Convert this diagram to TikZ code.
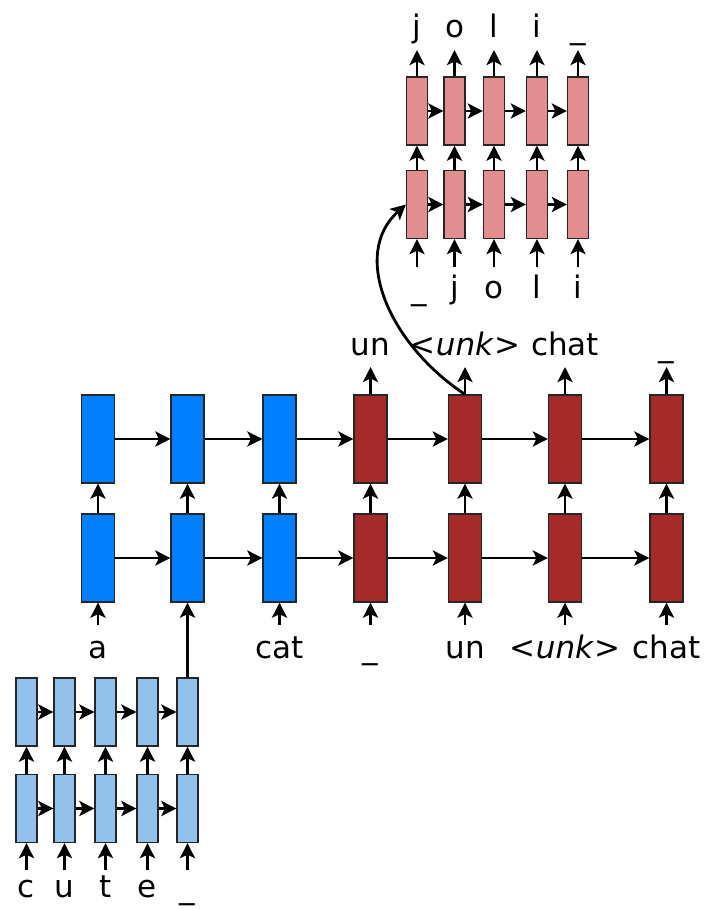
\documentclass[tikz,border=0pt]{standalone}
\usepackage{fontspec}
\setmainfont{DejaVu Sans}
\usetikzlibrary{arrows.meta}
\definecolor{encblue}{RGB}{0,128,255}
\definecolor{decred}{RGB}{165,42,42}
\definecolor{charblue}{RGB}{146,193,236}
\definecolor{charpink}{RGB}{226,142,142}
\newcommand{\usc}{\char95}
\begin{document}
\begin{tikzpicture}[x=1pt,y=-1pt,
  cellbase/.style={draw=black!85, line width=1.3pt, inner sep=0pt},
  bigcell/.style={cellbase, minimum width=33pt, minimum height=88pt},
  smallcell/.style={cellbase, minimum width=21pt, minimum height=68pt},
  enc/.style={bigcell, fill=encblue},
  dec/.style={bigcell, fill=decred},
  cenc/.style={smallcell, fill=charblue},
  cdec/.style={smallcell, fill=charpink},
  arr/.style={-{Stealth[length=15pt,width=15pt,inset=3.5pt]}, line width=2.8pt},
  lbl/.style={font=\fontsize{31}{37}\selectfont, anchor=base, inner sep=0pt}
]
\useasboundingbox (0,0) rectangle (709,909);

% ---------- main word-level grid ----------
\foreach \i/\x/\s in {1/98/enc,2/187.5/enc,3/279.5/enc,4/370.5/dec,5/465/dec,6/565/dec,7/666.5/dec}{
  \node[\s] (b\i a) at (\x,439) {};
  \node[\s] (b\i b) at (\x,558) {};
  \draw[arr] (b\i b) -- (b\i a);
}
\foreach \i/\j in {1/2,2/3,3/4,4/5,5/6,6/7}{
  \draw[arr] (b\i a.east) -- (b\j a.west);
  \draw[arr] (b\i b.east) -- (b\j b.west);
}
% inputs
\foreach \i/\x in {1/98,3/279.5,4/370.5,5/465,6/565,7/666.5}{
  \coordinate (bin\i) at (\x,625);
  \draw[arr] (bin\i) -- (b\i b.south);
}
% outputs
\foreach \i/\x in {4/370.5,5/465,6/565,7/666.5}{
  \coordinate (bout\i) at (\x,367);
  \draw[arr] (b\i a.north) -- (bout\i);
}
% labels below
\node[lbl] (la) at (98,658) {a};
\node[lbl] (lcat) at (279.5,658) {cat};
\node[lbl] (lus) at (370.5,658) {\usc};
\node[lbl] (lun) at (465,658) {un};
\node[lbl] (lunk) at (565,658) {<\textit{unk}>};
\node[lbl] (lchat) at (666.5,658) {chat};
% labels above
\node[lbl] (tun) at (370.5,355) {un};
\node[lbl] (tunk) at (465,355) {<\textit{unk}>};
\node[lbl] (tchat) at (565,355) {chat};
\node[lbl] (tus) at (666.5,356) {\usc};

% ---------- character encoder (bottom left) ----------
\foreach \i/\x in {1/26.5,2/64.5,3/105.5,4/147.5,5/187.5}{
  \node[cenc] (s\i a) at (\x,712) {};
  \node[cenc] (s\i b) at (\x,808.5) {};
  \draw[arr] (s\i b) -- (s\i a);
  \coordinate (sin\i) at (\x,870);
  \draw[arr] (sin\i) -- (s\i b.south);
}
\foreach \i/\j in {1/2,2/3,3/4,4/5}{
  \draw[arr] (s\i a.east) -- (s\j a.west);
  \draw[arr] (s\i b.east) -- (s\j b.west);
}
\draw[arr] (s5a.north) -- (b2b.south);
\node[lbl] (sc) at (26.5,897) {c};
\node[lbl] (su) at (64.5,897) {u};
\node[lbl] (st) at (105.5,897) {t};
\node[lbl] (se) at (147.5,897) {e};
\node[lbl] (sus) at (187.5,898) {\usc};

% ---------- character decoder (top) ----------
\foreach \i/\x in {1/417,2/454.5,3/494,4/537,5/578}{
  \node[cdec] (p\i a) at (\x,111) {};
  \node[cdec] (p\i b) at (\x,204.5) {};
  \draw[arr] (p\i b) -- (p\i a);
  \coordinate (pin\i) at (\x,267);
  \draw[arr] (pin\i) -- (p\i b.south);
  \coordinate (pout\i) at (\x,50);
  \draw[arr] (p\i a.north) -- (pout\i);
}
\foreach \i/\j in {1/2,2/3,3/4,4/5}{
  \draw[arr] (p\i a.east) -- (p\j a.west);
  \draw[arr] (p\i b.east) -- (p\j b.west);
}
\node[lbl] (pj) at (417,38) {j};
\node[lbl] (po) at (454.5,38) {o};
\node[lbl] (pl) at (494,38) {l};
\node[lbl] (pi) at (537,38) {i};
\node[lbl] (pus) at (578,39) {\usc};
\node[lbl] (qus) at (419,299) {\usc};
\node[lbl] (qj) at (454.5,298) {j};
\node[lbl] (qo) at (494,298) {o};
\node[lbl] (ql) at (537,298) {l};
\node[lbl] (qi) at (578,298) {i};

% ---------- copy arrow ----------
\draw[arr] (b5a.north) .. controls (390,345) and (350,255) .. (p1b.west);
\end{tikzpicture}
\end{document}
